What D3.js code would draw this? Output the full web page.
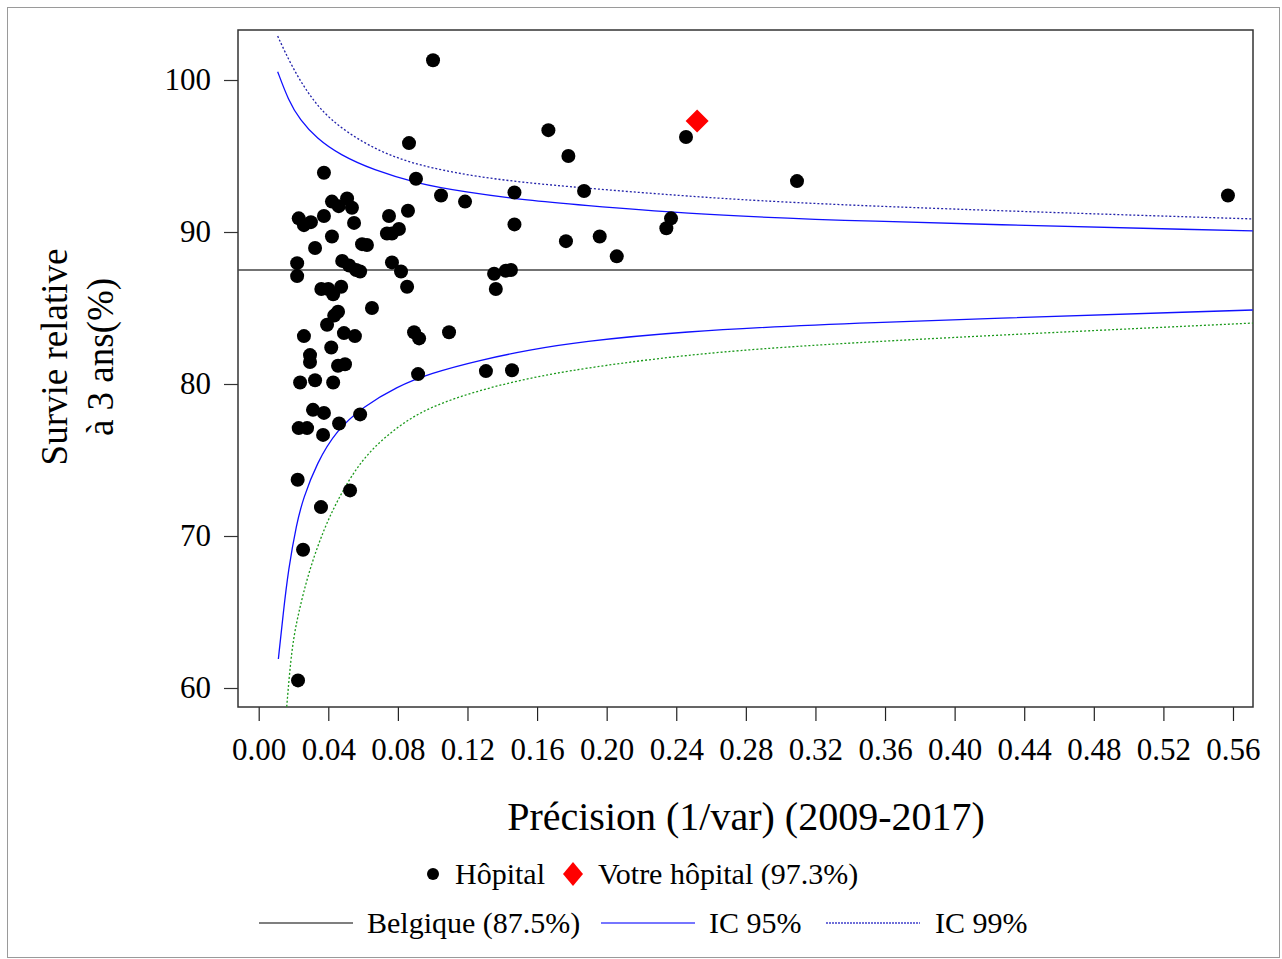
<!DOCTYPE html>
<html>
<head>
<meta charset="utf-8">
<script src="https://cdn.jsdelivr.net/npm/d3@7"></script>
<style>
  body { margin: 0; background: #fff; }
  svg text { font-family: "Liberation Serif", "Times New Roman", serif; fill: #000; }
</style>
</head>
<body>
<div id="chart"></div>
<script>
// hospitals: [precision (1/var), survie relative à 3 ans (%)]
const hopitaux = [
  [0.1002, 101.3], [0.1665, 96.7], [0.2456, 96.25], [0.178, 95.0], [0.0864, 95.85],
  [0.0375, 93.9], [0.3094, 93.35], [0.5571, 92.4], [0.0904, 93.5], [0.187, 92.7],
  [0.147, 92.6], [0.1048, 92.4], [0.1186, 92.0], [0.0508, 92.2], [0.0421, 92.0],
  [0.046, 91.7], [0.0536, 91.6], [0.0858, 91.4], [0.0749, 91.05], [0.0375, 91.05],
  [0.023, 90.9], [0.030, 90.65], [0.026, 90.45], [0.0548, 90.6], [0.147, 90.5],
  [0.237, 90.9], [0.2343, 90.25], [0.0806, 90.2], [0.0737, 89.9], [0.0766, 89.9],
  [0.0421, 89.7], [0.196, 89.7], [0.1766, 89.4], [0.0594, 89.2], [0.0622, 89.15],
  [0.0324, 88.95], [0.2058, 88.4], [0.0221, 87.95], [0.048, 88.1], [0.052, 87.8],
  [0.056, 87.5], [0.0583, 87.4], [0.0766, 88.0], [0.0818, 87.4], [0.0221, 87.1],
  [0.1353, 87.25], [0.142, 87.45], [0.145, 87.5], [0.1363, 86.25], [0.036, 86.25],
  [0.040, 86.25], [0.0474, 86.4], [0.0428, 85.9], [0.0853, 86.4], [0.0651, 85.0],
  [0.0456, 84.75], [0.0434, 84.5], [0.0393, 83.9], [0.026, 83.15], [0.049, 83.35],
  [0.0553, 83.15], [0.0893, 83.4], [0.0922, 83.0], [0.1094, 83.4], [0.0417, 82.4],
  [0.0295, 81.9], [0.0295, 81.45], [0.0496, 81.3], [0.0456, 81.2], [0.1306, 80.85],
  [0.1456, 80.9], [0.0916, 80.65], [0.0238, 80.1], [0.0324, 80.25], [0.0428, 80.1],
  [0.0312, 78.3], [0.0375, 78.1], [0.0583, 78.0], [0.0462, 77.4], [0.023, 77.1],
  [0.0278, 77.1], [0.037, 76.65], [0.0224, 73.7], [0.0525, 73.0], [0.0358, 71.9],
  [0.0255, 69.1], [0.0226, 60.5]
];

const votreHopital = [0.252, 97.3];
const belgique = 87.5;

// control limits
const ic99Haut = [
  [0.0109, 102.89], [0.0190, 100.88], [0.0295, 98.90], [0.0410, 97.37], [0.0601, 95.84],
  [0.0793, 94.85], [0.0984, 94.22], [0.1272, 93.60], [0.1559, 93.22], [0.1847, 92.92],
  [0.2421, 92.38], [0.3283, 91.75], [0.5714, 90.86]
];
const ic95Haut = [
  [0.0109, 100.55], [0.0170, 98.68], [0.0237, 97.37], [0.0333, 96.16], [0.0467, 95.07],
  [0.0659, 94.08], [0.0908, 93.20], [0.1176, 92.65], [0.1559, 92.06], [0.1847, 91.78],
  [0.2421, 91.23], [0.3283, 90.74], [0.5714, 90.07]
];
const ic95Bas = [
  [0.0113, 61.91], [0.0141, 64.91], [0.0170, 67.76], [0.0218, 70.84], [0.0256, 72.48],
  [0.0333, 74.78], [0.0448, 76.97], [0.0601, 78.51], [0.0793, 79.82], [0.0984, 80.70],
  [0.1272, 81.58], [0.1559, 82.25], [0.1847, 82.78], [0.2421, 83.44], [0.3283, 83.98],
  [0.5714, 84.87]
];
const ic99Bas = [
  [0.0161, 58.77], [0.0190, 62.72], [0.0228, 64.91], [0.0285, 67.55], [0.0371, 70.39],
  [0.0467, 72.70], [0.0601, 75.22], [0.0793, 77.19], [0.0984, 78.51], [0.1272, 79.61],
  [0.1559, 80.40], [0.1847, 81.00], [0.2421, 81.90], [0.3283, 82.70], [0.5714, 84.01]
];

const xTicks = d3.range(0, 0.57, 0.04);
const yTicks = [60, 70, 80, 90, 100];

const W = 1282, H = 959;
const plot = {left: 238, top: 30, right: 1253, bottom: 707};

const svg = d3.select("#chart").append("svg")
    .attr("width", W)
    .attr("height", H);

// outer border
svg.append("rect")
    .attr("x", 7.5).attr("y", 7.5)
    .attr("width", W - 10).attr("height", H - 9)
    .attr("fill", "none")
    .attr("stroke", "#9a9a9a");

const x = d3.scaleLinear()
    .domain([-0.0119, 0.5715])
    .range([plot.left, plot.right]);
const y = d3.scaleLinear()
    .domain([58.75, 103.29])
    .range([plot.bottom, plot.top]);

svg.append("clipPath").attr("id", "clip")
    .append("rect")
    .attr("x", plot.left).attr("y", plot.top)
    .attr("width", plot.right - plot.left)
    .attr("height", plot.bottom - plot.top);

// axes
const xAxis = svg.append("g")
    .attr("transform", `translate(0,${plot.bottom})`)
    .call(d3.axisBottom(x).tickValues(xTicks).tickFormat(d3.format(".2f"))
        .tickSize(14).tickSizeOuter(0).tickPadding(14));
xAxis.select(".domain").remove();
xAxis.selectAll("line").attr("stroke", "#222").attr("stroke-width", 1.2);
xAxis.selectAll("text").style("font-size", "31px").attr("dy", "0.8em");

const yAxis = svg.append("g")
    .attr("transform", `translate(${plot.left},0)`)
    .call(d3.axisLeft(y).tickValues(yTicks).tickSize(14).tickSizeOuter(0).tickPadding(13));
yAxis.select(".domain").remove();
yAxis.selectAll("line").attr("stroke", "#333").attr("stroke-width", 1.2);
yAxis.selectAll("text").style("font-size", "31px");

// frame
svg.append("rect")
    .attr("x", plot.left).attr("y", plot.top)
    .attr("width", plot.right - plot.left)
    .attr("height", plot.bottom - plot.top)
    .attr("fill", "none")
    .attr("stroke", "#333")
    .attr("stroke-width", 1.5);

const g = svg.append("g").attr("clip-path", "url(#clip)");

// Belgique reference
g.append("line")
    .attr("x1", plot.left).attr("x2", plot.right)
    .attr("y1", y(belgique)).attr("y2", y(belgique))
    .attr("stroke", "#444")
    .attr("stroke-width", 1.5);

const line = d3.line()
    .x(d => x(d[0]))
    .y(d => y(d[1]))
    .curve(d3.curveBasis);

const curves = [
  {data: ic95Haut, color: "#1010ff", dash: null},
  {data: ic95Bas, color: "#1010ff", dash: null},
  {data: ic99Haut, color: "#2222aa", dash: "2,2"},
  {data: ic99Bas, color: "#1c9a1c", dash: "2,2"}
];
curves.forEach(c => {
  g.append("path")
      .datum(c.data)
      .attr("d", line)
      .attr("fill", "none")
      .attr("stroke", c.color)
      .attr("stroke-width", 1.3)
      .attr("stroke-dasharray", c.dash);
});

g.selectAll("circle.hop")
    .data(hopitaux)
    .enter()
    .append("circle")
    .attr("class", "hop")
    .attr("cx", d => x(d[0]))
    .attr("cy", d => y(d[1]))
    .attr("r", 7)
    .attr("fill", "#000");

const diamond = (cx, cy, rx, ry) => `M${cx},${cy - ry}L${cx + rx},${cy}L${cx},${cy + ry}L${cx - rx},${cy}Z`;

svg.append("path")
    .attr("d", diamond(x(votreHopital[0]), y(votreHopital[1]), 11.5, 11.5))
    .attr("fill", "#ff0000");

// axis titles
svg.append("text")
    .attr("x", 746).attr("y", 830)
    .attr("text-anchor", "middle")
    .style("font-size", "40px")
    .text("Précision (1/var) (2009-2017)");

const yTitle = svg.append("text")
    .attr("transform", "translate(67,357) rotate(-90)")
    .attr("text-anchor", "middle")
    .style("font-size", "37px");
yTitle.append("tspan").attr("x", 0).attr("y", 0).text("Survie relative");
yTitle.append("tspan").attr("x", 0).attr("y", 46).text("à 3 ans(%)");

// legend
const leg = svg.append("g").style("font-size", "30px");
leg.append("circle").attr("cx", 433).attr("cy", 874).attr("r", 6).attr("fill", "#000");
leg.append("text").attr("x", 455).attr("y", 884).text("Hôpital");
leg.append("path").attr("d", diamond(573, 874, 10, 12)).attr("fill", "#ff0000");
leg.append("text").attr("x", 598).attr("y", 884).text("Votre hôpital (97.3%)");

const legLines = [
  {x: 259, color: "#555", dash: null, label: "Belgique (87.5%)", tx: 367},
  {x: 601, color: "#4848ff", dash: null, label: "IC 95%", tx: 709},
  {x: 826, color: "#4040cc", dash: "2,1", label: "IC 99%", tx: 935}
];
legLines.forEach(l => {
  leg.append("line")
      .attr("x1", l.x).attr("x2", l.x + 94)
      .attr("y1", 923).attr("y2", 923)
      .attr("stroke", l.color)
      .attr("stroke-width", 1.3)
      .attr("stroke-dasharray", l.dash);
  leg.append("text").attr("x", l.tx).attr("y", 933).text(l.label);
});
</script>
</body>
</html>
